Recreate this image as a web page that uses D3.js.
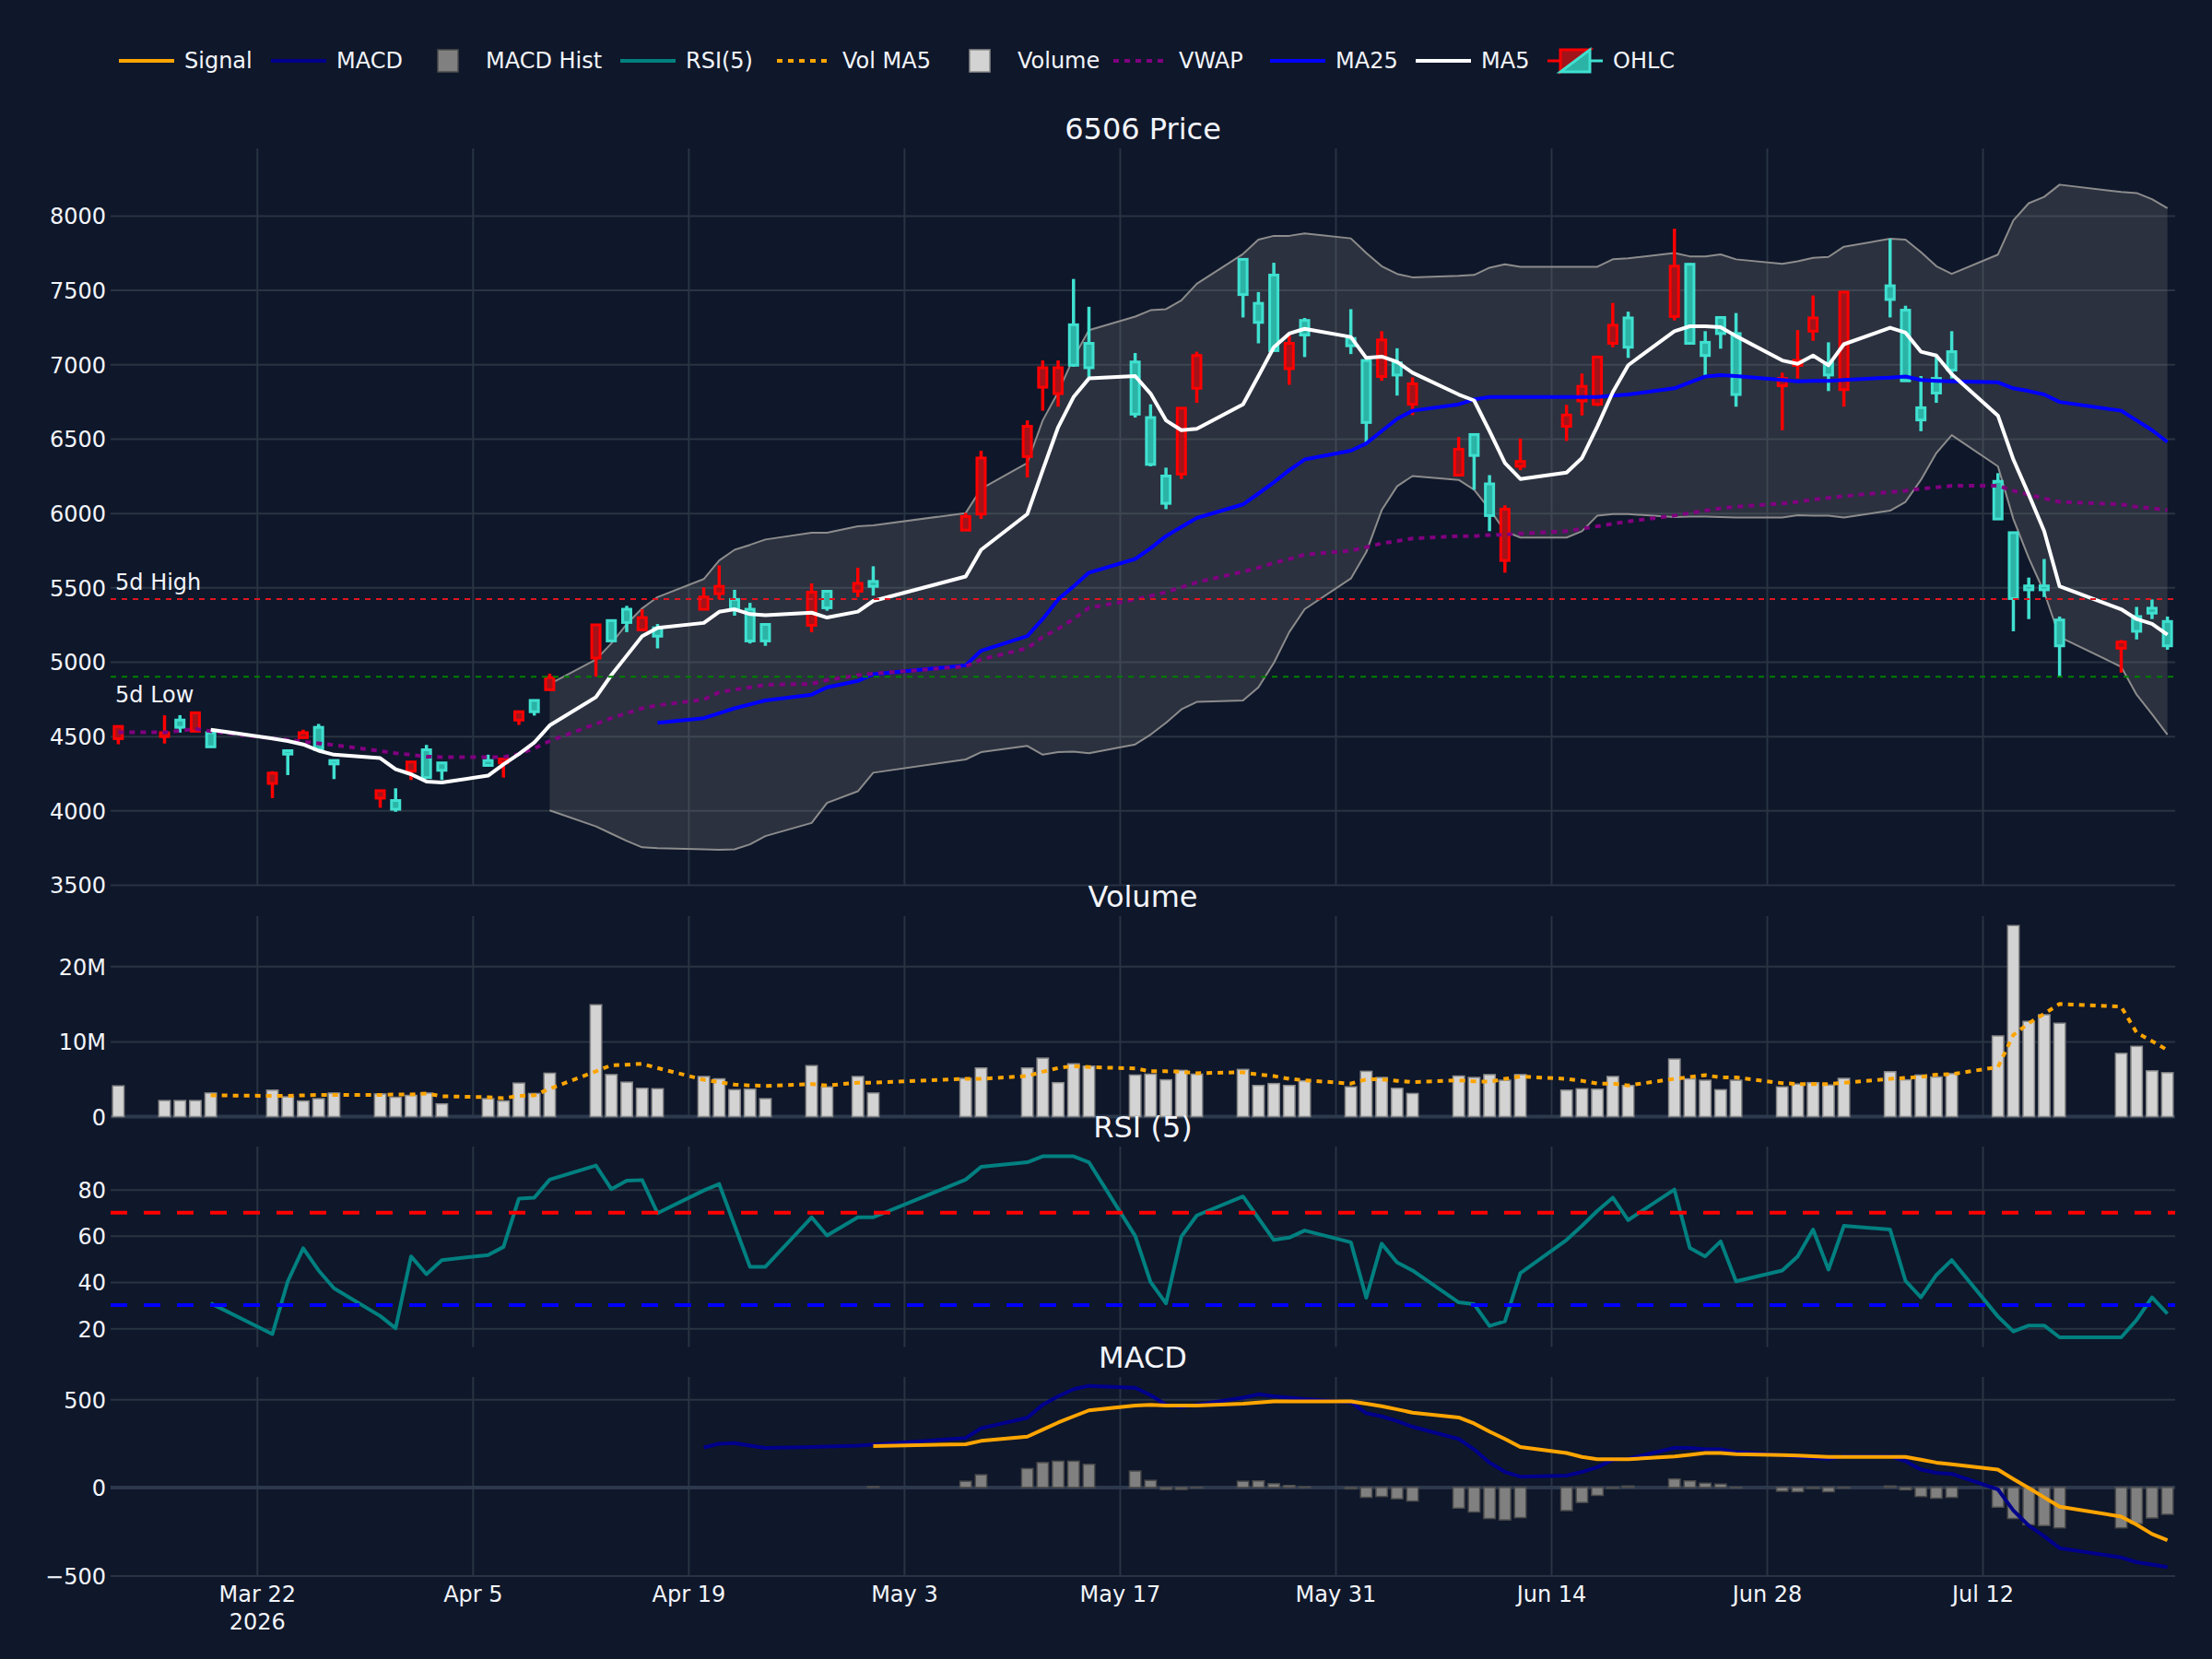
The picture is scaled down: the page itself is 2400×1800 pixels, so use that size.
<!DOCTYPE html>
<html>
<head>
<meta charset="utf-8">
<script src="https://cdn.jsdelivr.net/npm/d3@7"></script>
<style>
  body { margin: 0; background: #0f172a; overflow: hidden; }
</style>
</head>
<body>
<script>
// trading days (2026)
var dates = [
  "2026-03-13","2026-03-16","2026-03-17","2026-03-18","2026-03-19","2026-03-23","2026-03-24","2026-03-25","2026-03-26","2026-03-27",
  "2026-03-30","2026-03-31","2026-04-01","2026-04-02","2026-04-03","2026-04-06","2026-04-07","2026-04-08","2026-04-09","2026-04-10",
  "2026-04-13","2026-04-14","2026-04-15","2026-04-16","2026-04-17","2026-04-20","2026-04-21","2026-04-22","2026-04-23","2026-04-24",
  "2026-04-27","2026-04-28","2026-04-30","2026-05-01","2026-05-07","2026-05-08","2026-05-11","2026-05-12","2026-05-13","2026-05-14",
  "2026-05-15","2026-05-18","2026-05-19","2026-05-20","2026-05-21","2026-05-22","2026-05-25","2026-05-26","2026-05-27","2026-05-28",
  "2026-05-29","2026-06-01","2026-06-02","2026-06-03","2026-06-04","2026-06-05","2026-06-08","2026-06-09","2026-06-10","2026-06-11",
  "2026-06-12","2026-06-15","2026-06-16","2026-06-17","2026-06-18","2026-06-19","2026-06-22","2026-06-23","2026-06-24","2026-06-25",
  "2026-06-26","2026-06-29","2026-06-30","2026-07-01","2026-07-02","2026-07-03","2026-07-06","2026-07-07","2026-07-08","2026-07-09",
  "2026-07-10","2026-07-13","2026-07-14","2026-07-15","2026-07-16","2026-07-17","2026-07-21","2026-07-22","2026-07-23","2026-07-24"
]

var open = [
  4483,4497,4608,4533,4523,4182,4402,4490,4559,4336,
  4083,4067,4264,4408,4320,4336,4320,4608,4740,4812,
  5025,5277,5353,5215,5228,5353,5458,5419,5353,5251,
  5245,5474,5474,5540,5885,5993,6380,6846,6803,7266,
  7141,7016,6642,6249,6262,6839,7706,7410,7600,6971,
  7295,7174,7026,6918,7010,6731,6255,6528,6196,5681,
  6314,6583,6754,6731,7141,7312,7322,7673,7148,7315,
  7207,6856,6993,7223,7010,6830,7528,7364,6708,6905,
  7085,6213,5868,5510,5510,5281,5091,5304,5360,5271
]
var high = [
  4570,4640,4641,4660,4523,4264,4402,4543,4582,4336,
  4135,4149,4330,4441,4320,4375,4346,4664,4740,4920,
  5250,5277,5376,5353,5254,5500,5648,5484,5396,5251,
  5527,5480,5632,5642,6001,6419,6623,7026,7026,7574,
  7387,7076,6731,6305,6710,7085,7710,7486,7683,7200,
  7312,7371,7030,7223,7108,6912,6511,6530,6255,6052,
  6501,6728,6938,7050,7413,7354,7912,7680,7223,7322,
  7345,6944,7230,7463,7148,7490,7844,7394,6921,7049,
  7223,6268,5870,5566,5691,5304,5146,5369,5419,5304
]
var low = [
  4445,4450,4523,4530,4425,4083,4238,4490,4411,4211,
  4018,3991,4205,4220,4205,4303,4221,4575,4638,4810,
  4900,5140,5199,5210,5090,5350,5419,5310,5123,5107,
  5199,5343,5435,5445,5880,5960,6239,6688,6715,6984,
  6912,6642,6314,6026,6229,6741,7315,7141,7085,6862,
  7049,7069,6460,6889,6790,6659,6250,6157,5878,5599,
  6288,6485,6656,6720,7115,7043,7295,7140,6918,7105,
  6715,6557,6905,7158,6820,6715,7315,6885,6550,6741,
  6905,5955,5205,5287,5435,4900,4927,5150,5287,5081
]
var close = [
  4565,4523,4559,4657,4428,4251,4379,4523,4411,4313,
  4133,4008,4326,4221,4270,4303,4346,4664,4664,4894,
  5248,5140,5264,5297,5172,5435,5507,5353,5140,5140,
  5468,5363,5527,5507,5977,6370,6583,6977,6977,6994,
  6977,6665,6327,6065,6705,7059,7469,7282,7092,7141,
  7197,7125,6609,7164,6928,6869,6429,6387,5983,6026,
  6347,6659,6852,7049,7263,7115,7660,7141,7059,7207,
  6797,6905,7026,7312,6928,7486,7436,6889,6626,6807,
  6961,5960,5425,5484,5484,5107,5133,5205,5327,5107
]

var ma5 = [
  null,null,null,null,4543,4484,4467,4444,4402,4375,
  4352,4277,4244,4195,4188,4234,4310,4379,4457,4572,
  4762,4910,5041,5172,5228,5261,5336,5353,5320,5313,
  5330,5297,5337,5409,5573,5753,5993,6288,6577,6780,
  6905,6921,6803,6623,6557,6567,6731,6921,7115,7207,
  7239,7184,7043,7052,7016,6944,6797,6757,6551,6337,
  6229,6272,6370,6583,6813,6994,7223,7256,7256,7249,
  7190,7026,7003,7059,6993,7135,7246,7213,7085,7059,
  6934,6655,6360,6124,5878,5507,5353,5287,5255,5182
]
var ma25 = [
  null,null,null,null,null,null,null,null,null,null,
  null,null,null,null,null,null,null,null,null,null,
  null,null,null,null,4589,4621,4654,4687,4713,4740,
  4779,4828,4871,4917,4976,5074,5173,5287,5419,5507,
  5599,5691,5763,5845,5906,5967,6058,6131,6206,6288,
  6360,6419,6468,6551,6633,6688,6731,6764,6780,6780,
  6780,6780,6780,6780,6790,6797,6839,6879,6918,6928,
  6921,6895,6885,6889,6889,6895,6911,6918,6895,6889,
  6885,6879,6839,6820,6797,6747,6688,6623,6557,6478
]
var vwap = [
  4526,4526,4535,4549,4533,4484,4475,4463,4451,4440,
  4400,4385,4375,4362,4359,4359,4359,4379,4418,4467,
  4582,4621,4654,4687,4707,4746,4795,4812,4828,4845,
  4851,4877,4910,4920,4969,5015,5091,5166,5222,5287,
  5363,5419,5442,5468,5501,5534,5606,5632,5665,5691,
  5720,5747,5770,5796,5812,5829,5845,5845,5852,5855,
  5862,5878,5894,5911,5928,5944,5983,6000,6016,6032,
  6042,6065,6075,6091,6102,6114,6141,6150,6163,6173,
  6183,6183,6150,6124,6098,6075,6058,6042,6032,6019
]
var bbUpper = [
  null,null,null,null,null,null,null,null,null,null,
  null,null,null,null,null,null,null,null,null,4851,
  5015,5123,5254,5359,5435,5556,5681,5753,5786,5822,
  5868,5868,5911,5917,6000,6163,6337,6623,6813,7043,
  7230,7321,7364,7371,7430,7542,7742,7838,7864,7864,
  7880,7847,7749,7660,7608,7585,7595,7601,7650,7673,
  7656,7656,7656,7656,7706,7713,7749,7726,7726,7739,
  7706,7676,7693,7716,7722,7791,7844,7838,7755,7660,
  7608,7738,7968,8083,8126,8208,8159,8152,8110,8050
]
var bbLower = [
  null,null,null,null,null,null,null,null,null,null,
  null,null,null,null,null,null,null,null,null,4001,
  3893,3844,3795,3752,3746,3739,3736,3739,3772,3828,
  3916,4051,4129,4254,4343,4392,4434,4375,4392,4395,
  4385,4444,4510,4589,4680,4730,4740,4828,4992,5199,
  5353,5560,5737,6019,6180,6249,6223,6157,6026,5878,
  5835,5835,5878,5983,5993,5993,5973,5976,5976,5973,
  5970,5970,5986,5983,5983,5970,6016,6075,6223,6403,
  6524,6314,5960,5698,5468,5166,4966,4779,4648,4510
]
var fiveDayHigh = 5422
var fiveDayLow = 4900

// volume in millions of shares
var volume = [
  4.08,2.13,2.13,2.13,3.13,3.51,2.63,2.07,2.38,3.13,
  3.01,2.57,2.82,3.13,1.69,2.38,2.07,4.45,3.07,5.77,
  14.86,5.58,4.58,3.76,3.70,5.33,5.02,3.57,3.64,2.38,
  6.77,3.95,5.33,3.13,5.08,6.46,6.46,7.77,4.51,7.02,
  6.71,5.52,5.64,4.89,6.14,5.64,6.27,4.14,4.39,4.14,
  4.76,3.95,6.02,5.20,3.76,3.07,5.39,5.20,5.58,4.83,
  5.58,3.51,3.70,3.64,5.33,4.14,7.65,5.02,4.83,3.57,
  4.83,3.95,4.33,4.51,4.20,5.08,5.96,4.89,5.52,5.27,
  5.71,10.72,25.39,12.66,13.54,12.41,8.40,9.34,6.08,5.83
]
var volMa5 = [
  null,null,null,null,2.82,2.76,2.76,2.82,2.88,2.88,
  2.88,2.95,2.95,3.07,2.70,2.57,2.45,2.76,2.82,3.70,
  6.02,6.83,6.90,7.02,6.46,4.89,4.58,4.26,4.14,4.08,
  4.33,4.14,4.51,4.51,5.02,5.02,5.39,5.96,6.46,6.71,
  6.58,6.40,6.02,6.02,5.96,5.77,5.89,5.58,5.39,5.02,
  4.83,4.39,4.95,4.95,4.76,4.58,4.83,4.70,4.64,5.02,
  5.33,5.02,4.76,4.39,4.39,4.14,5.02,5.27,5.52,5.20,
  5.20,4.45,4.33,4.33,4.33,4.51,5.02,5.14,5.27,5.58,
  5.64,6.58,10.85,12.41,13.67,14.98,14.61,11.16,10.03,8.84
]

var rsi = [
  null,null,null,null,30.8,17.5,40.3,54.6,45.0,37.3,
  25.3,20.0,51.1,43.4,49.5,51.7,55.2,76.1,76.5,84.3,
  90.4,80.2,83.9,84.1,69.8,79.6,82.4,64.5,46.6,46.6,
  68.0,60.1,68.0,68.0,84.3,89.8,91.8,94.4,94.4,94.4,
  91.8,60.0,40.0,30.8,59.7,68.8,77.0,67.6,58.2,59.2,
  62.3,57.2,33.2,56.6,48.5,45.0,31.2,30.4,21.0,23.0,
  43.8,58.2,64.3,70.8,76.5,66.8,80.0,54.8,51.1,57.6,
  40.3,45.0,51.1,62.7,45.4,64.3,62.7,40.5,33.4,43.0,
  49.5,25.1,18.6,21.2,21.2,16.1,16.1,23.6,33.4,26.3
]
var rsiUpper = 70
var rsiLower = 30

var macd = [
  null,null,null,null,null,null,null,null,null,null,
  null,null,null,null,null,null,null,null,null,null,
  null,null,null,null,null,227,248,251,237,224,
  229,232,237,243,280,336,395,469,517,557,
  576,565,523,469,456,469,509,528,517,509,
  501,483,421,403,376,344,275,216,141,88,
  61,67,88,115,157,163,224,224,216,216,
  200,184,173,168,163,176,176,149,101,83,
  77,-11,-131,-216,-277,-344,-397,-424,-437,-451
]
var signal = [
  null,null,null,null,null,null,null,null,null,null,
  null,null,null,null,null,null,null,null,null,null,
  null,null,null,null,null,null,null,null,null,null,
  null,null,null,235,245,264,288,328,368,403,
  437,465,469,464,464,464,475,481,488,488,
  488,488,475,461,443,424,397,363,317,275,
  229,195,173,160,160,160,176,185,195,195,
  189,184,181,177,173,173,173,173,157,141,
  131,101,48,-3,-56,-109,-165,-211,-264,-299
]
var hist = [
  null,null,null,null,null,null,null,null,null,null,
  null,null,null,null,null,null,null,null,null,null,
  null,null,null,null,null,null,null,null,null,null,
  null,null,null,5,35,72,107,141,149,149,
  131,93,40,-11,-11,0,35,37,21,11,
  3,-8,-56,-51,-64,-77,-117,-139,-176,-184,
  -171,-131,-85,-45,-5,8,48,37,24,19,
  -3,-21,-24,-5,-24,-3,8,-13,-51,-61,
  -56,-112,-176,-211,-216,-229,-229,-205,-173,-152
]

// axis ticks
var dateTicks = ["2026-03-22","2026-04-05","2026-04-19","2026-05-03","2026-05-17","2026-05-31","2026-06-14","2026-06-28","2026-07-12"]
var priceTicks = [3500,4000,4500,5000,5500,6000,6500,7000,7500,8000]
var volumeTicks = [0,10,20]
var rsiTicks = [20,40,60,80]
var macdTicks = [-500,0,500]

var width = 2400
var height = 1800
var font = "DejaVu Sans, Verdana, sans-serif"
var textColor = "#f2f5fa"
var gridColor = "#283442"
var upLine = "#ff0000", upFill = "#a3131a"
var downLine = "#40e0d0", downFill = "#2bb3a6"

var svg = d3.select("body")
    .append("svg")
    .attr("width", width)
    .attr("height", height)

svg.append("rect").attr("width", width).attr("height", height).attr("fill", "#0f172a")

var parse = d3.utcParse("%Y-%m-%d")
var days = dates.map(parse)
var tickDays = dateTicks.map(parse)
var idx = d3.range(days.length)

var left = 120, right = 2360

var x = d3.scaleUtc()
    .domain([new Date(Date.UTC(2026, 2, 12, 12)), new Date(Date.UTC(2026, 6, 24, 12))])
    .range([left, right])

var dayW = x(parse("2026-03-17")) - x(parse("2026-03-16"))

var yPrice = d3.scaleLinear().domain([3494, 8452]).range([961, 161])
var yVol = d3.scaleLinear().domain([0, 26.65]).range([1211.5, 994])
var yRsi = d3.scaleLinear().domain([11.9, 98.6]).range([1461.5, 1244])
var yMacd = d3.scaleLinear().domain([-507.6, 626.5]).range([1711, 1494])

function panelGrid(y, ticks, fmt, showDates) {
    var top = y.range()[1], bottom = y.range()[0]
    var gy = svg.append("g").attr("transform", "translate(" + left + ",0)")
    gy.call(d3.axisLeft(y).tickValues(ticks).tickSize(-(right - left)).tickPadding(5).tickFormat(fmt))
    gy.select(".domain").remove()
    gy.selectAll(".tick line").attr("stroke", gridColor).attr("stroke-width", 2)
    gy.selectAll(".tick text").attr("fill", textColor).attr("dy", "0.37em")
        .style("font-size", "24px").style("font-family", font)

    var gx = svg.append("g").attr("transform", "translate(0," + bottom + ")")
    gx.call(d3.axisBottom(x).tickValues(tickDays).tickSize(-(bottom - top)).tickPadding(10)
        .tickFormat(showDates ? d3.utcFormat("%b %-d") : ""))
    gx.select(".domain").remove()
    gx.selectAll(".tick line").attr("stroke", gridColor).attr("stroke-width", 2)
    gx.selectAll(".tick text").attr("fill", textColor)
        .style("font-size", "24px").style("font-family", font)
    if (showDates) {
        gx.selectAll(".tick text").filter(function(d, i) { return i === 0 })
            .append("tspan").attr("x", 0).attr("dy", "1.25em").text("2026")
    }
}

function zeroLine(y) {
    svg.append("line")
        .attr("x1", left).attr("x2", right)
        .attr("y1", y(0)).attr("y2", y(0))
        .attr("stroke", "#2c394d").attr("stroke-width", 4)
}

function linePath(values, y) {
    return d3.line()
        .defined(function(d) { return d != null })
        .x(function(d, i) { return x(days[i]) })
        .y(function(d) { return y(d) })(values)
}

function drawLine(values, y, color, w, dash) {
    svg.append("path")
        .attr("d", linePath(values, y))
        .attr("fill", "none")
        .attr("stroke", color)
        .attr("stroke-width", w)
        .attr("stroke-linejoin", "round")
        .attr("stroke-dasharray", dash || null)
}

function hLine(y, v, color, w, dash) {
    svg.append("line")
        .attr("x1", left).attr("x2", right)
        .attr("y1", y(v)).attr("y2", y(v))
        .attr("stroke", color).attr("stroke-width", w)
        .attr("stroke-dasharray", dash)
}

function title(y, txt) {
    svg.append("text")
        .attr("x", (left + right) / 2).attr("y", y.range()[1] - 10.5)
        .attr("text-anchor", "middle")
        .attr("fill", textColor)
        .style("font-size", "32px").style("font-family", font)
        .text(txt)
}

// grids
panelGrid(yPrice, priceTicks, d3.format("d"), false)
panelGrid(yVol, volumeTicks, function(d) { return d === 0 ? "0" : d + "M" }, false)
panelGrid(yRsi, rsiTicks, d3.format("d"), false)
panelGrid(yMacd, macdTicks, function(d) { return d < 0 ? "\u2212" + (-d) : String(d) }, true)
zeroLine(yVol)
zeroLine(yMacd)

// ---- price panel ----
var band = d3.area()
    .defined(function(i) { return bbUpper[i] != null })
    .x(function(i) { return x(days[i]) })
    .y0(function(i) { return yPrice(bbLower[i]) })
    .y1(function(i) { return yPrice(bbUpper[i]) })
svg.append("path").attr("d", band(idx)).attr("fill", "rgba(128,128,128,0.25)")
drawLine(bbUpper, yPrice, "#8c8c8c", 2)
drawLine(bbLower, yPrice, "#8c8c8c", 2)

var candles = svg.append("g")
idx.forEach(function(i) {
    var up = close[i] >= open[i]
    var cx = x(days[i])
    var lc = up ? upLine : downLine
    candles.append("line")
        .attr("x1", cx).attr("x2", cx)
        .attr("y1", yPrice(high[i])).attr("y2", yPrice(low[i]))
        .attr("stroke", lc).attr("stroke-width", 3.5)
    var yt = yPrice(Math.max(open[i], close[i]))
    var yb = yPrice(Math.min(open[i], close[i]))
    candles.append("rect")
        .attr("x", cx - 4.5).attr("width", 9)
        .attr("y", yt).attr("height", Math.max(yb - yt, 1))
        .attr("fill", up ? upFill : downFill)
        .attr("stroke", lc).attr("stroke-width", 3)
})

drawLine(ma25, yPrice, "#0000ff", 4)
drawLine(vwap, yPrice, "#800080", 4, "6,6")
drawLine(ma5, yPrice, "#ffffff", 4)

hLine(yPrice, fiveDayHigh, "#e0151f", 2, "6,6")
hLine(yPrice, fiveDayLow, "#008000", 2, "6,6")
svg.append("text").attr("x", 125).attr("y", yPrice(fiveDayHigh) - 10)
    .attr("fill", textColor).style("font-size", "24px").style("font-family", font).text("5d High")
svg.append("text").attr("x", 125).attr("y", yPrice(fiveDayLow) + 28)
    .attr("fill", textColor).style("font-size", "24px").style("font-family", font).text("5d Low")

// ---- volume panel ----
var barW = dayW * 0.74
svg.append("g").selectAll("rect")
    .data(idx)
    .enter()
    .append("rect")
    .attr("x", function(i) { return x(days[i]) - barW / 2 })
    .attr("width", barW)
    .attr("y", function(i) { return yVol(volume[i]) })
    .attr("height", function(i) { return yVol(0) - yVol(volume[i]) })
    .attr("fill", "#d3d3d3")
    .attr("stroke", "#8a8a8a")
    .attr("stroke-width", 1.5)
drawLine(volMa5, yVol, "#ffa500", 4, "6,6")

// ---- RSI panel ----
drawLine(rsi, yRsi, "#008080", 4)
hLine(yRsi, rsiUpper, "#ff0000", 4, "18,18")
hLine(yRsi, rsiLower, "#0000ff", 4, "18,18")

// ---- MACD panel ----
svg.append("g").selectAll("rect")
    .data(idx.filter(function(i) { return hist[i] != null }))
    .enter()
    .append("rect")
    .attr("x", function(i) { return x(days[i]) - barW / 2 })
    .attr("width", barW)
    .attr("y", function(i) { return Math.min(yMacd(hist[i]), yMacd(0)) })
    .attr("height", function(i) { return Math.max(Math.abs(yMacd(hist[i]) - yMacd(0)), 0.5) })
    .attr("fill", "#808080")
    .attr("stroke", "#4d4d4d")
    .attr("stroke-width", 1.5)
drawLine(macd, yMacd, "#00008b", 4)
drawLine(signal, yMacd, "#ffa500", 4)

// titles
title(yPrice, "6506 Price")
title(yVol, "Volume")
title(yRsi, "RSI (5)")
title(yMacd, "MACD")

// ---- legend ----
var legendItems = [
    {name: "Signal", x: 129, kind: "line", color: "#ffa500"},
    {name: "MACD", x: 294, kind: "line", color: "#00008b"},
    {name: "MACD Hist", x: 456, kind: "bar", color: "#808080", edge: "#4d4d4d"},
    {name: "RSI(5)", x: 673, kind: "line", color: "#008080"},
    {name: "Vol MA5", x: 843, kind: "line", color: "#ffa500", dash: "6,6"},
    {name: "Volume", x: 1033, kind: "bar", color: "#d3d3d3", edge: "#8a8a8a"},
    {name: "VWAP", x: 1208, kind: "line", color: "#800080", dash: "6,6"},
    {name: "MA25", x: 1378, kind: "line", color: "#0000ff"},
    {name: "MA5", x: 1536, kind: "line", color: "#ffffff"},
    {name: "OHLC", x: 1679, kind: "candle"}
]
var ly = 66
var legend = svg.append("g")
legendItems.forEach(function(it) {
    var g = legend.append("g").attr("transform", "translate(" + it.x + "," + ly + ")")
    if (it.kind === "line") {
        g.append("line").attr("x1", 0).attr("x2", 60).attr("y1", 0).attr("y2", 0)
            .attr("stroke", it.color).attr("stroke-width", 4)
            .attr("stroke-dasharray", it.dash || null)
    } else if (it.kind === "bar") {
        g.append("rect").attr("x", 19).attr("y", -12).attr("width", 22).attr("height", 24)
            .attr("fill", it.color).attr("stroke", it.edge).attr("stroke-width", 1.5)
    } else {
        var c = g.append("g").attr("transform", "translate(30,0)")
        c.append("path").attr("d", "M-30,0H-16M-16,12V-12H16Z")
            .attr("fill", upFill).attr("stroke", upLine).attr("stroke-width", 3)
        c.append("path").attr("d", "M30,0H16M16,-12V12H-16Z")
            .attr("fill", downFill).attr("stroke", downLine).attr("stroke-width", 3)
    }
    g.append("text").attr("x", 71).attr("y", 0).attr("dy", "0.35em")
        .attr("fill", textColor)
        .style("font-size", "24px").style("font-family", font)
        .text(it.name)
})
</script>
</body>
</html>
